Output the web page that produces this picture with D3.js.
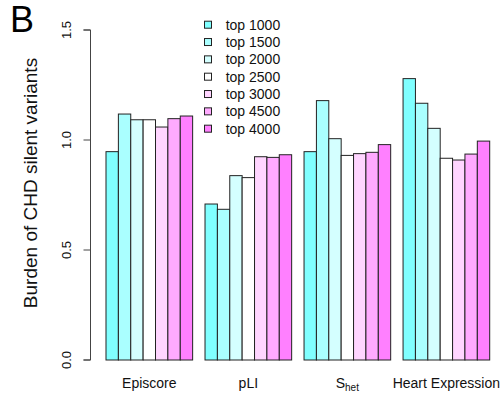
<!DOCTYPE html>
<html>
<head>
<meta charset="utf-8">
<script src="https://cdn.jsdelivr.net/npm/d3@7"></script>
<style>
  html, body { margin: 0; padding: 0; background: #fff; }
  svg { display: block; font-family: "Liberation Sans", Arial, Helvetica, sans-serif; }
</style>
</head>
<body>
<svg id="chart" width="504" height="398"></svg>
<script>
// Gene-set categories along the x axis
const categories = ["Episcore", "pLI", "Shet", "Heart Expression"];
// Legend labels, one per bar within each group
const seriesLabels = ["top 1000", "top 1500", "top 2000", "top 2500", "top 3000", "top 4500", "top 4000"];
// Bar fills (cm.colors-style cyan → white → magenta ramp)
const seriesColors = ["#80FFFF", "#AAFFFF", "#D4FFFF", "#FFFFFF", "#FFD5FF", "#FFAAFF", "#FF80FF"];
// Burden values per category, in legend order
const episcore = [0.947, 1.118, 1.092, 1.092, 1.059, 1.097, 1.109];
const pli      = [0.709, 0.685, 0.838, 0.829, 0.924, 0.921, 0.933];
const shet     = [0.947, 1.179, 1.006, 0.930, 0.938, 0.944, 0.979];
const heart    = [1.279, 1.167, 1.053, 0.917, 0.909, 0.936, 0.995];
const yTicks = [0.0, 0.5, 1.0, 1.5];

const groups = [episcore, pli, shet, heart];
const nSeries = seriesLabels.length;
const groupSpan = nSeries + 1; // one empty bar-width between groups

const svg = d3.select("#chart");

// x in bar-width units (0..32), y in burden
const x = d3.scaleLinear().domain([0, groups.length * groupSpan]).range([93.62, 489.7]);
const y = d3.scaleLinear().domain([0, 1.5]).range([360, 30]);

// Bars
const barData = [];
groups.forEach((vals, g) => {
  vals.forEach((v, j) => {
    barData.push({ g, j, v, u0: g * groupSpan + 1 + j });
  });
});

svg.append("g")
  .selectAll("rect")
  .data(barData)
  .join("rect")
  .attr("x", d => x(d.u0))
  .attr("y", d => y(d.v))
  .attr("width", d => x(d.u0 + 1) - x(d.u0))
  .attr("height", d => y(0) - y(d.v))
  .attr("fill", d => seriesColors[d.j])
  .attr("stroke", "#222")
  .attr("stroke-width", 1);

// Y axis
const yAxis = d3.axisLeft(y)
  .tickValues(yTicks)
  .tickFormat(d3.format(".1f"))
  .tickSize(7)
  .tickPadding(6);

const axisG = svg.append("g")
  .attr("transform", "translate(90.5,0)")
  .call(yAxis);
axisG.select(".domain").attr("stroke", "#333").attr("d", `M-7,${y(0)}H0V${y(1.5)}H-7`).attr("stroke", "#444");
axisG.selectAll(".tick line").attr("stroke", "#444");
axisG.selectAll(".tick text")
  .attr("font-size", 13)
  .attr("font-family", "Liberation Sans, Arial, sans-serif")
  .attr("fill", "#111")
  .attr("text-anchor", "middle")
  .attr("dy", null)
  .attr("x", null)
  .attr("transform", d => `translate(-20,${y(d)}) rotate(-90)`)
  .attr("y", 0);
axisG.selectAll(".tick").attr("transform", null);
axisG.selectAll(".tick line").attr("transform", d => `translate(0,${y(d)})`);

// Y axis title
svg.append("text")
  .attr("transform", "translate(37,183) rotate(-90)")
  .attr("text-anchor", "middle")
  .attr("font-size", 19)
  .attr("fill", "#111")
  .text("Burden of CHD silent variants");

// Panel letter
svg.append("text")
  .attr("x", 10)
  .attr("y", 32)
  .attr("font-size", 36)
  .attr("fill", "#000")
  .text("B");

// Category labels
const catG = svg.append("g");
categories.forEach((c, g) => {
  const cx = (x(g * groupSpan + 1) + x(g * groupSpan + 1 + nSeries)) / 2;
  const t = catG.append("text")
    .attr("x", cx)
    .attr("y", 388)
    .attr("text-anchor", "middle")
    .attr("font-size", 14)
    .attr("fill", "#111");
  if (c === "Shet") {
    t.append("tspan").text("S");
    t.append("tspan").attr("font-size", 10).attr("dy", 3).text("het");
  } else {
    t.text(c);
  }
});

// Legend
const legend = svg.append("g");
seriesLabels.forEach((lab, i) => {
  const cy = 24.7 + i * 17.33;
  legend.append("rect")
    .attr("x", 204.5)
    .attr("y", cy - 3.5)
    .attr("width", 7)
    .attr("height", 7)
    .attr("fill", seriesColors[i])
    .attr("stroke", "#222");
  legend.append("text")
    .attr("x", 225.7)
    .attr("y", cy + 5)
    .attr("font-size", 14)
    .attr("fill", "#111")
    .text(lab);
});
</script>
</body>
</html>
